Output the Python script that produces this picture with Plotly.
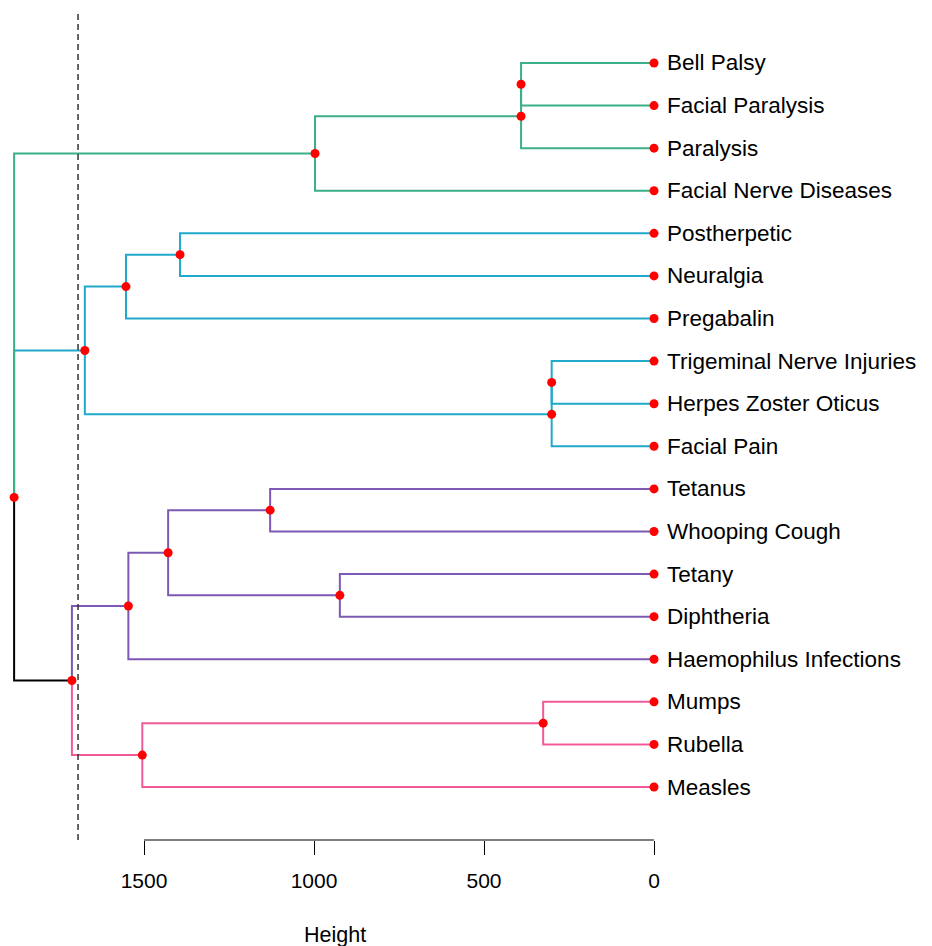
import plotly.graph_objects as go

# ---- data ----
leaves = ["Bell Palsy", "Facial Paralysis", "Paralysis", "Facial Nerve Diseases",
          "Postherpetic", "Neuralgia", "Pregabalin", "Trigeminal Nerve Injuries",
          "Herpes Zoster Oticus", "Facial Pain", "Tetanus", "Whooping Cough",
          "Tetany", "Diphtheria", "Haemophilus Infections", "Mumps", "Rubella", "Measles"]
leaf_cluster = [1, 1, 1, 1, 2, 2, 2, 2, 2, 2, 3, 3, 3, 3, 3, 4, 4, 4]

# merges: negative = leaf number (1-based), positive = merge row (1-based)
merge_children = [
    [-8, -9], [1, -10], [-16, -17], [-1, -2], [4, -3], [-13, -14], [5, -4],
    [-11, -12], [-5, -6], [8, 6], [3, -18], [10, -15], [9, -7], [13, 2],
    [12, 11], [14, 7, 15],
]
merge_height = [301, 301, 326, 391, 391, 924, 997, 1129, 1394, 1429, 1505,
                 1546, 1553, 1674, 1712, 1882]
root_node_pos = 11.2   # root marker position (in leaf units)
cut_height = 1694
tick_vals = [1500, 1000, 500, 0]
tick_text = ["1500", "1000", "500", "0"]

# ---- style ----
palette = {1: "#3AAF88", 2: "#1FA9CA", 3: "#7D58B5", 4: "#F25A97"}
mixed_color = "#000000"
FONT = "Liberation Sans, Arial, sans-serif"

n = len(leaves)
pos = {}
hgt = {}
members = {}
for i in range(n):
    pos[-(i + 1)] = i + 1
    hgt[-(i + 1)] = 0
    members[-(i + 1)] = {leaf_cluster[i]}
for k, (ch, h) in enumerate(zip(merge_children, merge_height), start=1):
    hgt[k] = h
    members[k] = set().union(*[members[c] for c in ch])
    pos[k] = sum(pos[c] for c in ch) / len(ch)
root = len(merge_children)
pos[root] = root_node_pos


def color_of(node):
    m = members[node]
    return palette[list(m)[0]] if len(m) == 1 else mixed_color


fig = go.Figure()
for k, ch in enumerate(merge_children, start=1):
    for c in ch:
        fig.add_trace(go.Scatter(
            x=[hgt[k], hgt[k], hgt[c]], y=[pos[k], pos[c], pos[c]],
            mode="lines", line=dict(color=color_of(c), width=2),
            hoverinfo="skip", showlegend=False))

# markers
node_x = [0] * n + merge_height
node_y = [pos[-(i + 1)] for i in range(n)] + [pos[k] for k in range(1, root + 1)]
fig.add_trace(go.Scatter(x=node_x, y=node_y, mode="markers",
                         marker=dict(color="#FF0000", size=9),
                         cliponaxis=False, showlegend=False, hoverinfo="skip"))

for i, name in enumerate(leaves):
    fig.add_annotation(x=0, y=i + 1, text=name, xref="x", yref="y",
                       xanchor="left", yanchor="middle", xshift=11, showarrow=False,
                       font=dict(size=22.5, color="#000000", family=FONT))

# cut line
fig.add_shape(type="line", x0=cut_height, x1=cut_height, y0=0.0, y1=1.0,
              xref="x", yref="paper", line=dict(color="#333333", width=1.5, dash="6px,4px"))
# axis line over tick range
fig.add_shape(type="line", x0=max(tick_vals), x1=min(tick_vals), y0=0, y1=0,
              xref="x", yref="paper", line=dict(color="#000000", width=1.2))

fig.add_annotation(x=0.467, y=-0.1145, xref="paper", yref="paper", text="Height",
                   showarrow=False, yanchor="middle",
                   font=dict(size=21.5, color="#000000", family=FONT))

fig.update_layout(
    width=932, height=946,
    margin=dict(l=0, r=232, t=2, b=114),
    paper_bgcolor="white", plot_bgcolor="white",
    xaxis=dict(range=[1900, -158.8], showgrid=False, zeroline=False, showline=False,
               tickmode="array", tickvals=tick_vals, ticktext=tick_text,
               ticks="outside", ticklen=14, tickwidth=1.2, tickcolor="#000000",
               ticklabelstandoff=8,
               tickfont=dict(size=21, color="#000000", family=FONT)),
    yaxis=dict(range=[19.244, -0.244], visible=False),
)
fig.write_html("out.html")
